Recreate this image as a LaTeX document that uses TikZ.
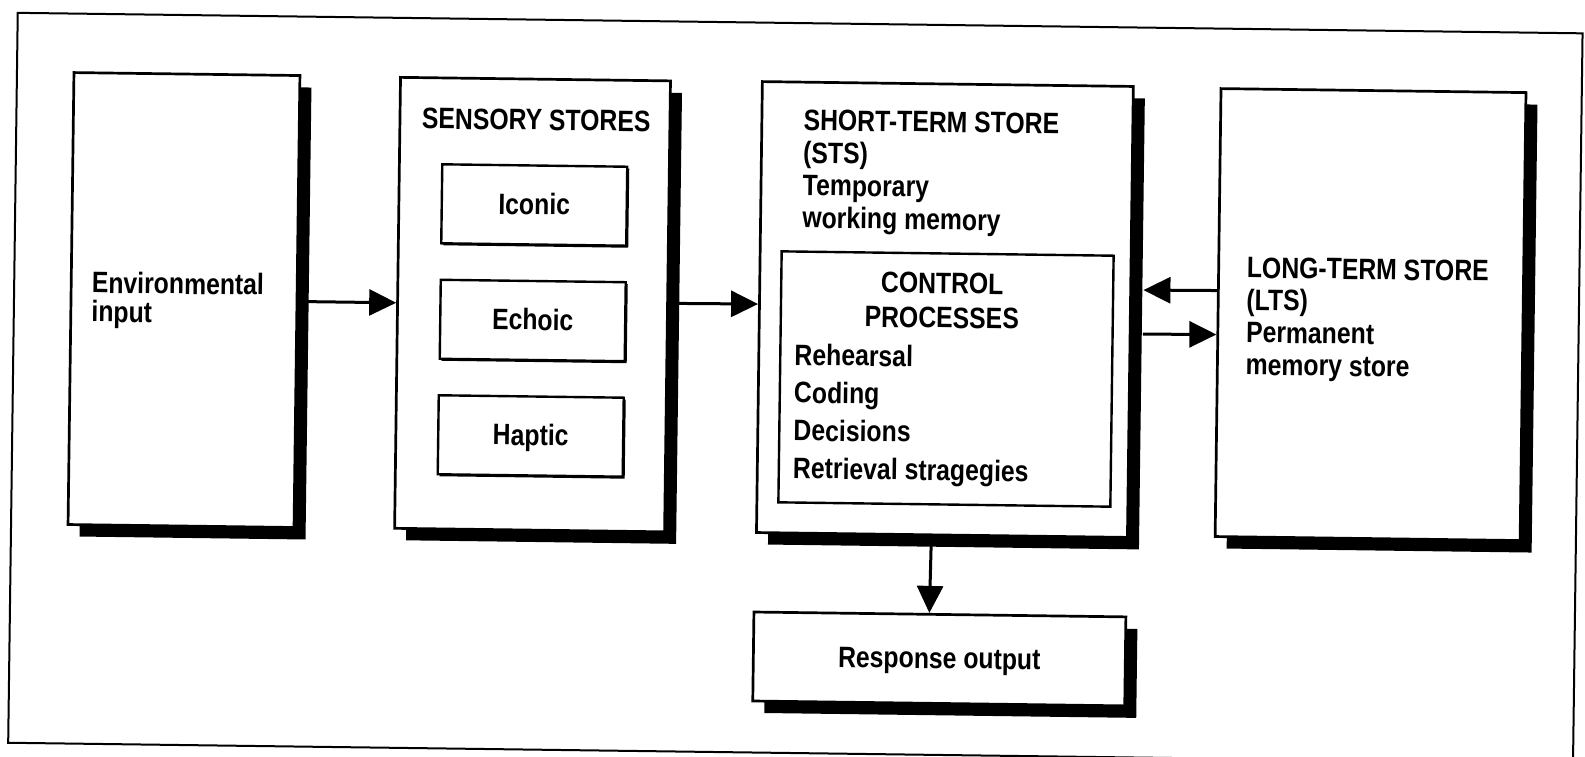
\documentclass[tikz,border=0pt]{standalone}
\usepackage{fontspec}
\setmainfont{Liberation Sans}
\newfontfamily\lowf{Liberation Sans Bold}[FakeStretch=0.84]
\usetikzlibrary{arrows.meta,shadows}
\newcommand\blockL[2]{\vtop{\baselineskip=#1\lineskiplimit=-100pt\lineskip=0pt\relax\halign{##\hfil\cr#2\crcr}}}
\newcommand\blockC[2]{\vtop{\baselineskip=#1\lineskiplimit=-100pt\lineskip=0pt\relax\halign{\hfil##\hfil\cr#2\crcr}}}
\begin{document}
\begin{tikzpicture}[x=1pt,y=-1pt,
  box/.style={draw=black, line width=2.7pt, fill=white, inner sep=0pt,
    drop shadow={shadow xshift=11.5pt, shadow yshift=-12pt, fill=black, opacity=1}},
  subbox/.style={draw=black, line width=2.4pt, fill=white, inner sep=0pt,
    minimum width=185pt, minimum height=79pt, text height=22pt, text depth=3pt,
    font=\lowf\fontsize{29.5}{30}\selectfont,
    drop shadow={shadow xshift=2pt, shadow yshift=-2pt, fill=black, opacity=1}},
  txt/.style={inner sep=0pt, font=\lowf\fontsize{29.5}{30}\selectfont},
  arr/.style={line width=3pt, -{Triangle[length=27pt,width=26pt]}},
]
\useasboundingbox (0,0) rectangle (1585,757);
\fill[white] (0,0) rectangle (1585,757);
\begin{scope}[rotate around={-0.75:(792,378)}, transform shape]
\draw[line width=2pt] (13,23) rectangle (1578,753);

\node[box, minimum width=226pt, minimum height=452pt] (env) at (183,308) {};
\node[box, minimum width=270pt, minimum height=451pt] (sens) at (531.6,308) {};
\node[box, minimum width=371pt, minimum height=451pt] (sts) at (944,307.5) {};
\node[box, minimum width=305pt, minimum height=448pt] (lts) at (1369.7,307) {};
\node[box, minimum width=372pt, minimum height=89pt, text height=22pt, text depth=3pt,
      font=\lowf\fontsize{29.5}{30}\selectfont] (resp) at (943,657) {Response output};
\node[draw=black, line width=2.4pt, fill=white, inner sep=0pt, minimum width=332pt, minimum height=251pt] (ctrl) at (946,377) {};

\node[subbox] (iconic) at (532,208.4) {Iconic};
\node[subbox] (echoic) at (532,323.9) {Echoic};
\node[subbox] (haptic) at (531.5,439.4) {Haptic};

\node[txt, anchor=base west] (envt) at (90.5,302)
  {\blockL{29pt}{Environmental\cr input}};
\node[txt, anchor=base] (senst) at (532.9,133.5) {SENSORY STORES};
\node[txt, anchor=base west] (stst) at (800.1,130.3)
  {\blockL{32.5pt}{SHORT-TERM STORE\cr (STS)\cr Temporary\cr working memory}};
\node[txt, anchor=base] (ctrlt) at (941,291.5)
  {\blockC{34.5pt}{CONTROL\cr PROCESSES}};
\node[txt, anchor=base west] (ctrll) at (794.1,365)
  {\blockL{37.8pt}{Rehearsal\cr Coding\cr Decisions\cr Retrieval stragegies}};
\node[txt, anchor=base west] (ltst) at (1245.3,272)
  {\blockL{32.3pt}{LONG-TERM STORE\cr (LTS)\cr Permanent\cr memory store}};

\draw[arr] (env.east) -- (sens.west);
\draw[arr] ([yshift=3pt]sens.east) -- ([yshift=3pt]sts.west);
\draw[arr] ([yshift=22pt]lts.west) -- ([xshift=11.5pt,yshift=22pt]sts.east);
\draw[arr] ([xshift=11.5pt,yshift=-22pt]sts.east) -- ([yshift=-22pt]lts.west);
\draw[arr] ([xshift=-10.5pt]sts.south) -- ([xshift=-10.5pt]resp.north);
\end{scope}
\end{tikzpicture}
\end{document}
